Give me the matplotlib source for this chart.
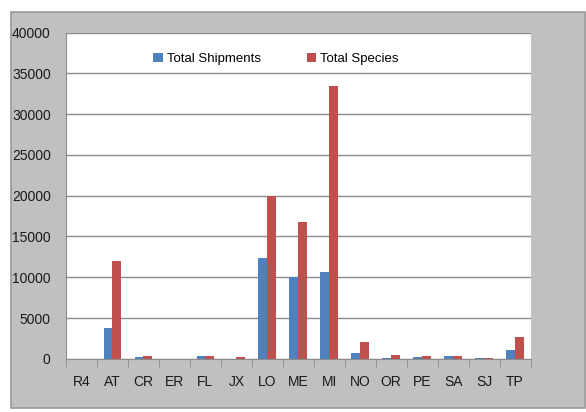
import matplotlib.pyplot as plt
import numpy as np
from matplotlib.patches import Rectangle

categories = ['R4', 'AT', 'CR', 'ER', 'FL', 'JX', 'LO', 'ME', 'MI', 'NO', 'OR', 'PE', 'SA', 'SJ', 'TP']
shipments = [0, 3800, 160, 0, 290, 0, 12300, 10000, 10700, 650, 120, 250, 370, 120, 1020]
species = [0, 12000, 290, 0, 290, 160, 20000, 16800, 33500, 2000, 490, 370, 380, 120, 2700]
yticks = [0, 5000, 10000, 15000, 20000, 25000, 30000, 35000, 40000]

plt.rcParams['font.family'] = ['Liberation Sans', 'DejaVu Sans']

fig = plt.figure(figsize=(5.86, 4.12), dpi=100)
fig.patch.set_facecolor('white')
# grey chart area behind the plot
fig.add_artist(Rectangle((11 / 586, 1 - 408 / 412), 574 / 586, 396 / 412,
                         transform=fig.transFigure, facecolor='#c0c0c0',
                         edgecolor='#9a9a9a', linewidth=1.2, zorder=-10))

ax = fig.add_axes([66 / 586, 1 - 358.8 / 412, 464.6 / 586, 326.2 / 412])
ax.set_zorder(1)
ax.set_facecolor('white')

x = np.arange(len(categories))
w = 1 / 3.5
ax.bar(x - w / 2, shipments, w, color='#4f81bd', label='Total Shipments', zorder=3)
ax.bar(x + w / 2, species, w, color='#c0504d', label='Total Species', zorder=3)

ax.set_xlim(-0.5, len(categories) - 0.5)
ax.set_ylim(0, 40000)
ax.set_yticks(yticks)
ax.set_yticklabels([str(v) for v in yticks])
ax.set_xticks(x)
ax.set_xticklabels(categories)
ax.set_xticks(np.arange(-0.5, len(categories)), minor=True)

ax.grid(axis='y', color='#8c8c8c', linewidth=1, zorder=1)
ax.tick_params(axis='y', length=0, pad=11, labelsize=10, colors='#1a1a1a')
ax.tick_params(axis='x', which='major', length=0, pad=12, labelsize=10, colors='#1a1a1a')
ax.tick_params(axis='x', which='minor', length=6, color='#8c8c8c')

for s in ['top', 'right']:
    ax.spines[s].set_visible(False)
ax.spines['left'].set_color('#8c8c8c')
ax.spines['bottom'].set_color('#8c8c8c')
ax.spines['bottom'].set_zorder(4)

ax.legend(loc='center', bbox_to_anchor=(0.452, 0.919), ncol=2, frameon=False,
          handlelength=0.7, handleheight=0.7, handletextpad=0.3, columnspacing=3.5,
          fontsize=9.5)

fig.savefig('out.png', dpi=100)
